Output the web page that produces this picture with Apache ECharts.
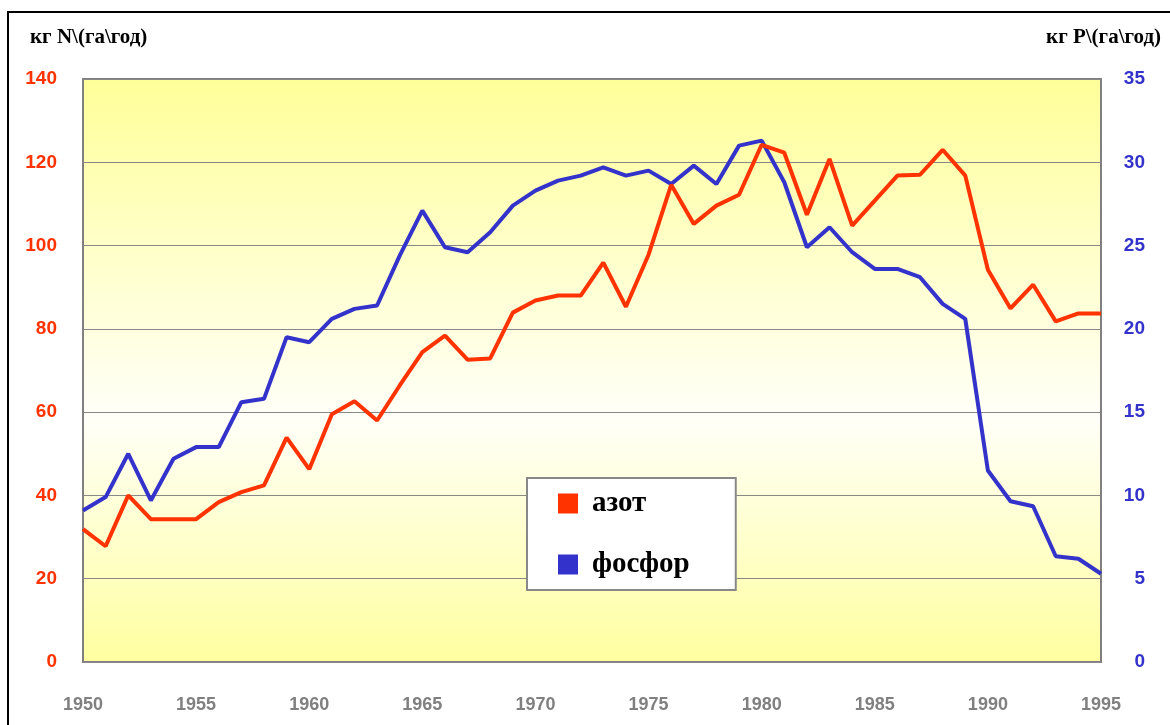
<!DOCTYPE html>
<html>
<head>
<meta charset="utf-8">
<script src="https://cdn.jsdelivr.net/npm/echarts@6/dist/echarts.min.js"></script>
<style>
html, body { margin: 0; padding: 0; background: #fff; }
#chart-container { width: 1170px; height: 725px; }
</style>
</head>
<body>
<div id="chart-container"></div>
<script>
var years = [];
for (var y = 1950; y <= 1995; y++) years.push(String(y));

// кг N на га в год
var nitrogen = [31.9, 27.8, 40.0, 34.3, 34.3, 34.3, 38.4, 40.8, 42.4, 53.9,
	46.3, 59.5, 62.6, 58.0, 66.4, 74.4, 78.4, 72.6, 72.9, 83.9,
	86.8, 88.0, 88.0, 95.9, 85.3, 97.8, 114.6, 105.2, 109.6, 112.2,
	124.2, 122.3, 107.4, 120.8, 104.8, 110.8, 116.8, 117.0, 123.0, 116.8,
	94.2, 84.9, 90.6, 81.8, 83.7, 83.7];

// кг P на га в год
var phosphorus = [9.1, 9.9, 12.5, 9.7, 12.2, 12.9, 12.9, 15.6, 15.8, 19.5,
	19.2, 20.6, 21.2, 21.4, 24.4, 27.1, 24.9, 24.6, 25.8, 27.4,
	28.3, 28.9, 29.2, 29.7, 29.2, 29.5, 28.7, 29.8, 28.7, 31.0,
	31.3, 28.8, 24.9, 26.1, 24.6, 23.6, 23.6, 23.1, 21.5, 20.6,
	11.5, 9.65, 9.35, 6.35, 6.2, 5.3];

var leftName = 'кг N\\(га\\год)';
var rightName = 'кг P\\(га\\год)';

var dom = document.getElementById('chart-container');
var myChart = echarts.init(dom, null, { renderer: 'canvas' });

var nameFont = { fontFamily: 'Liberation Serif', fontWeight: 'bold', fontSize: 21, color: '#000' };

var option = {
	animation: false,
	title: [
		{ text: leftName, left: 30, top: 27, padding: 0, textStyle: nameFont },
		{ text: rightName, right: 9, top: 27, padding: 0, textStyle: nameFont }
	],
	graphic: [{
		type: 'rect',
		shape: { x: 8, y: 12, width: 1400, height: 900 },
		style: { fill: 'none', stroke: '#000', lineWidth: 2 },
		silent: true
	}],
	grid: {
		left: 83, right: 69, top: 79, bottom: 63,
		show: true,
		borderColor: '#808080',
		borderWidth: 2,
		backgroundColor: {
			type: 'linear', x: 0, y: 0, x2: 0, y2: 1,
			colorStops: [
				{ offset: 0, color: '#ffff99' },
				{ offset: 0.58, color: '#fffff8' },
				{ offset: 1, color: '#ffffa0' }
			]
		}
	},
	legend: {
		orient: 'vertical',
		left: 527, top: 478,
		backgroundColor: '#fff',
		borderColor: '#888',
		borderWidth: 2,
		padding: [11, 46, 11, 31],
		itemWidth: 20, itemHeight: 20,
		itemGap: 32,
		textStyle: { fontFamily: 'Liberation Serif', fontWeight: 'bold', fontSize: 29, lineHeight: 29, color: '#000', padding: [0, 0, 0, 9] },
		data: [
			{ name: 'азот', icon: 'rect' },
			{ name: 'фосфор', icon: 'rect' }
		]
	},
	xAxis: {
		type: 'category',
		data: years,
		boundaryGap: false,
		axisLine: { show: false },
		axisTick: { show: false },
		axisLabel: {
			interval: 4,
			margin: 34,
			color: '#808080',
			fontFamily: 'Liberation Sans', fontWeight: 'bold', fontSize: 18
		}
	},
	yAxis: [
		{
			type: 'value', min: 0, max: 140, interval: 20,
			axisLine: { show: false },
			axisTick: { show: false },
			splitLine: { lineStyle: { color: '#888', width: 1 } },
			axisLabel: {
				margin: 26,
				color: '#ff3300',
				fontFamily: 'Liberation Sans', fontWeight: 'bold', fontSize: 19
			}
		},
		{
			type: 'value', min: 0, max: 35, interval: 5,
			position: 'right',
			axisLine: { show: false },
			axisTick: { show: false },
			splitLine: { show: false },
			axisLabel: {
				margin: 44,
				align: 'right',
				color: '#3333cc',
				fontFamily: 'Liberation Sans', fontWeight: 'bold', fontSize: 19
			}
		}
	],
	series: [
		{
			name: 'азот',
			type: 'line',
			yAxisIndex: 0,
			data: nitrogen,
			showSymbol: false,
			lineStyle: { color: '#ff3300', width: 4 },
			itemStyle: { color: '#ff3300' },
			z: 3
		},
		{
			name: 'фосфор',
			type: 'line',
			yAxisIndex: 1,
			data: phosphorus,
			showSymbol: false,
			lineStyle: { color: '#3333cc', width: 4 },
			itemStyle: { color: '#3333cc' },
			z: 2
		}
	]
};

myChart.setOption(option);
window.addEventListener('resize', myChart.resize);
</script>
</body>
</html>
